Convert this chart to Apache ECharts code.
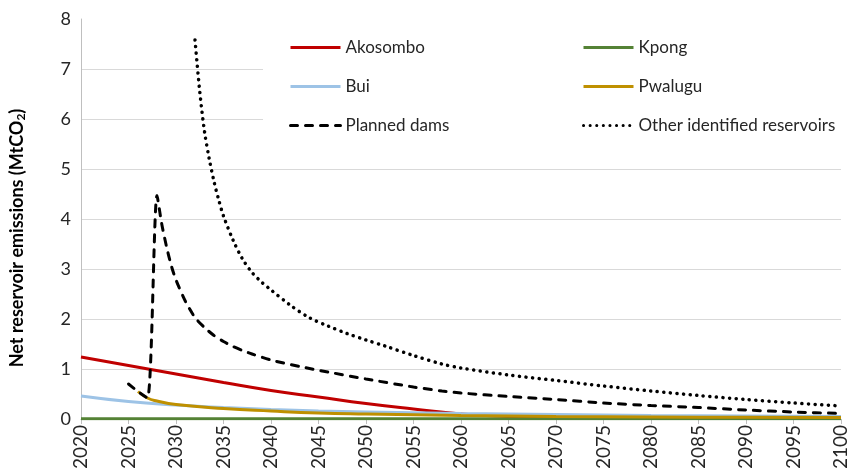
<!DOCTYPE html>
<html>
<head>
<meta charset="utf-8">
<script src="https://cdn.jsdelivr.net/npm/echarts@6/dist/echarts.min.js"></script>
<style>html,body{margin:0;padding:0;background:#fff}#c{width:853px;height:475px}</style>
</head>
<body>
<div id="c"></div>
<script>
var akosomboYears = [2020,2025,2030,2035,2040,2045,2050,2055,2060,2065,2070,2080,2090,2100];
var akosomboValues = [1.24,1.07,0.9,0.73,0.57,0.44,0.31,0.2,0.1,0.05,0.03,0.02,0.02,0.02];

var kpongYears = [2020,2060,2100];
var kpongValues = [0.005,0.005,0.005];

var buiYears = [2020,2025,2030,2035,2040,2045,2050,2060,2070,2080,2090,2100];
var buiValues = [0.46,0.35,0.28,0.23,0.19,0.16,0.14,0.11,0.09,0.07,0.06,0.05];

var pwaluguYears = [2026,2027,2028,2030,2035,2040,2045,2050,2060,2070,2080,2090,2100];
var pwaluguValues = [0.55,0.42,0.36,0.29,0.21,0.16,0.12,0.1,0.07,0.05,0.04,0.035,0.03];

var plannedYears = [2025,2026,2027,2028,2028.5,2029,2029.5,2030,2031,2032,2033,2034,2035,2036,2037,2038,2040,2043,2046,2050,2055,2058,2060,2065,2070,2075,2080,2085,2090,2095,2100];
var plannedValues = [0.7,0.55,0.42,4.47,3.9,3.45,3.07,2.78,2.35,2.03,1.83,1.67,1.55,1.45,1.37,1.3,1.18,1.05,0.94,0.8,0.64,0.56,0.52,0.45,0.39,0.32,0.27,0.23,0.18,0.14,0.11];

var otherYears = [2032,2032.5,2033,2033.5,2034,2034.5,2035,2036,2037,2038,2039,2040,2042,2044,2046,2048,2050,2052,2055,2058,2060,2065,2070,2075,2080,2085,2090,2095,2100];
var otherValues = [7.58,6.55,5.75,5.2,4.75,4.38,4.06,3.58,3.2,2.93,2.74,2.58,2.28,2.03,1.86,1.71,1.58,1.46,1.27,1.1,1.02,0.88,0.77,0.66,0.56,0.47,0.39,0.32,0.26];

var yTicks = [0,1,2,3,4,5,6,7,8];

function pairs(xs, ys){ return xs.map(function(x,i){ return [x, ys[i]]; }); }

var FONT = 'Lato';
var chart = echarts.init(document.getElementById('c'), null, {renderer:'canvas'});
function lineSeries(name, xs, ys, color, width, type, z, smooth){
  return {
    name: name, type: 'line', data: pairs(xs, ys),
    showSymbol: false, symbol: 'none', smooth: smooth,
    z: z,
    lineStyle: {color: color, width: width, type: type, cap: type === 'solid' ? 'butt' : 'round'},
    itemStyle: {color: color},
    emphasis: {disabled: true},
    animation: false
  };
}
function makeLegend(left, names){
  return {
    orient: 'vertical', top: 34, left: left, itemGap: 22,
    itemWidth: 50, itemHeight: 16,
    itemStyle: {opacity: 0},
    lineStyle: {width: 3},
    textStyle: {fontFamily: FONT, fontSize: 17, color: '#262626'},
    selectedMode: false,
    data: names
  };
}
var option = {
  animation: false,
  backgroundColor: '#fff',
  grid: {left: 80, right: 12, top: 19, bottom: 56},
  graphic: [{
    type: 'rect', z: 1, silent: true,
    shape: {x: 263, y: 24, width: 590, height: 126},
    style: {fill: '#ffffff'}
  }],
  legend: [
    makeLegend(284, ['Akosombo', 'Bui', 'Planned dams']),
    makeLegend(577, ['Kpong', 'Pwalugu', 'Other identified reservoirs'])
  ],
  xAxis: {
    type: 'value', min: 2020, max: 2100, interval: 5,
    axisLine: {show: true, lineStyle: {color: '#bfbfbf', width: 1}},
    axisTick: {show: true, length: 5, lineStyle: {color: '#bfbfbf'}},
    splitLine: {show: false},
    axisLabel: {rotate: 90, margin: 6, fontFamily: FONT, fontSize: 19, color: '#262626',
      formatter: function(v){ return String(v); }}
  },
  yAxis: {
    type: 'value', min: yTicks[0], max: yTicks[yTicks.length-1], interval: 1,
    axisLine: {show: true, lineStyle: {color: '#bfbfbf', width: 1}},
    axisTick: {show: false},
    splitLine: {show: true, lineStyle: {color: '#d9d9d9', width: 1},
      showMaxLine: false},
    axisLabel: {margin: 10, fontFamily: FONT, fontSize: 18, color: '#262626'},
    name: 'Net reservoir emissions (MtCO{sub|2})',
    nameLocation: 'middle', nameGap: 54, nameRotate: 90,
    nameTextStyle: {fontFamily: FONT, fontSize: 18, fontWeight: 'bold', color: '#000',
      padding: [0, 38, 0, 0],
      rich: {sub: {fontFamily: FONT, fontSize: 12, fontWeight: 'bold', color: '#000', verticalAlign: 'bottom', padding: [8,0,0,0]}}}
  },
  series: [
    lineSeries('Akosombo', akosomboYears, akosomboValues, '#c00000', 3, 'solid', 3, true),
    lineSeries('Kpong', kpongYears, kpongValues, '#548235', 3, 'solid', 3, false),
    lineSeries('Bui', buiYears, buiValues, '#9dc3e6', 3, 'solid', 3, true),
    lineSeries('Pwalugu', pwaluguYears, pwaluguValues, '#bf9000', 3, 'solid', 3, true),
    lineSeries('Planned dams', plannedYears, plannedValues, '#000000', 3, [7,8], 4, 0.25),
    lineSeries('Other identified reservoirs', otherYears, otherValues, '#000000', 3.5, [0.1,6.5], 4, 0.3)
  ]
};
chart.setOption(option);
</script>
</body>
</html>
